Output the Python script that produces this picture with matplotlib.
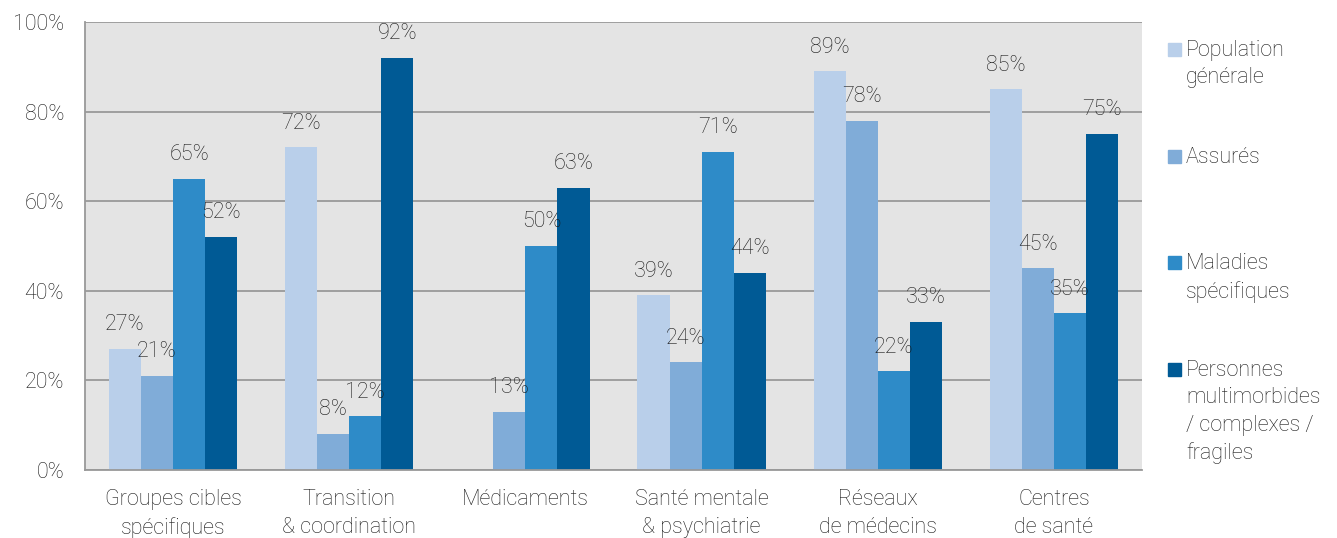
import matplotlib
matplotlib.use("Agg")
import matplotlib.pyplot as plt
from matplotlib.patches import Rectangle
import numpy as np

plt.rcParams['font.family'] = ['Roboto', 'DejaVu Sans']

categories = ["Groupes cibles\nspécifiques", "Transition\n& coordination", "Médicaments",
              "Santé mentale\n& psychiatrie", "Réseaux\nde médecins", "Centres\nde santé"]
series_names = ["Population\ngénérale", "Assurés", "Maladies\nspécifiques",
                "Personnes\nmultimorbides\n/ complexes /\nfragiles"]
population_generale = [27, 72, None, 39, 89, 85]
assures = [21, 8, 13, 24, 78, 45]
maladies_specifiques = [65, 12, 50, 71, 22, 35]
personnes_multimorbides = [52, 92, 63, 44, 33, 75]
yticks = [0, 20, 40, 60, 80, 100]
ytick_labels = ["0%", "20%", "40%", "60%", "80%", "100%"]

series = [population_generale, assures, maladies_specifiques, personnes_multimorbides]
colors = ["#b9cfea", "#80acd8", "#2e8bc8", "#005a95"]
text_color = "#1a1a1a"
fs = 15.5
fw = 'light'

fig = plt.figure(figsize=(13.37, 5.38), dpi=100)
ax = fig.add_axes([85/1337, 68/538, (1142-85)/1337, (470-22)/538])
ax.set_facecolor("#e4e4e4")

x = np.arange(len(categories))
bw = 0.182
for i, (vals, c) in enumerate(zip(series, colors)):
    off = (i - 1.5) * bw
    for xi, v in zip(x, vals):
        if v is None:
            continue
        ax.bar(xi + off, v, width=bw, color=c, zorder=2, linewidth=0)
        ax.text(xi + off, v + 5.4, f"{v}%", ha='center', va='center', fontsize=fs,
                color=text_color, fontweight=fw, zorder=3)

ax.set_xlim(-0.5, len(categories) - 0.5)
ax.set_ylim(0, 100)
ax.set_yticks(yticks)
ax.set_yticklabels(ytick_labels, fontsize=fs, color=text_color, fontweight=fw)
ax.set_xticks(x)
ax.set_xticklabels(categories, fontsize=fs, color=text_color, fontweight=fw,
                   linespacing=1.38, va='top')
ax.tick_params(axis='both', length=0)
ax.tick_params(axis='y', pad=15)
ax.tick_params(axis='x', pad=14)
ax.grid(axis='y', color="#999999", linewidth=1.3, zorder=1)
ax.set_axisbelow(True)
for s in ['top', 'right']:
    ax.spines[s].set_visible(False)
for s in ['left', 'bottom']:
    ax.spines[s].set_color("#999999")
    ax.spines[s].set_linewidth(1.3)

# legend (manual)
legend_tops = [40, 147, 253, 360]
for name, c, ty in zip(series_names, colors, legend_tops):
    sq = 13
    fig.patches.append(Rectangle((1168/1337, 1 - (ty + 3 + sq)/538), sq/1337, sq/538,
                                 transform=fig.transFigure, color=c, figure=fig))
    fig.text(1186/1337, 1 - ty/538, name, ha='left', va='top', fontsize=fs,
             color=text_color, fontweight=fw, linespacing=1.4)

fig.savefig("out.png", dpi=100)
